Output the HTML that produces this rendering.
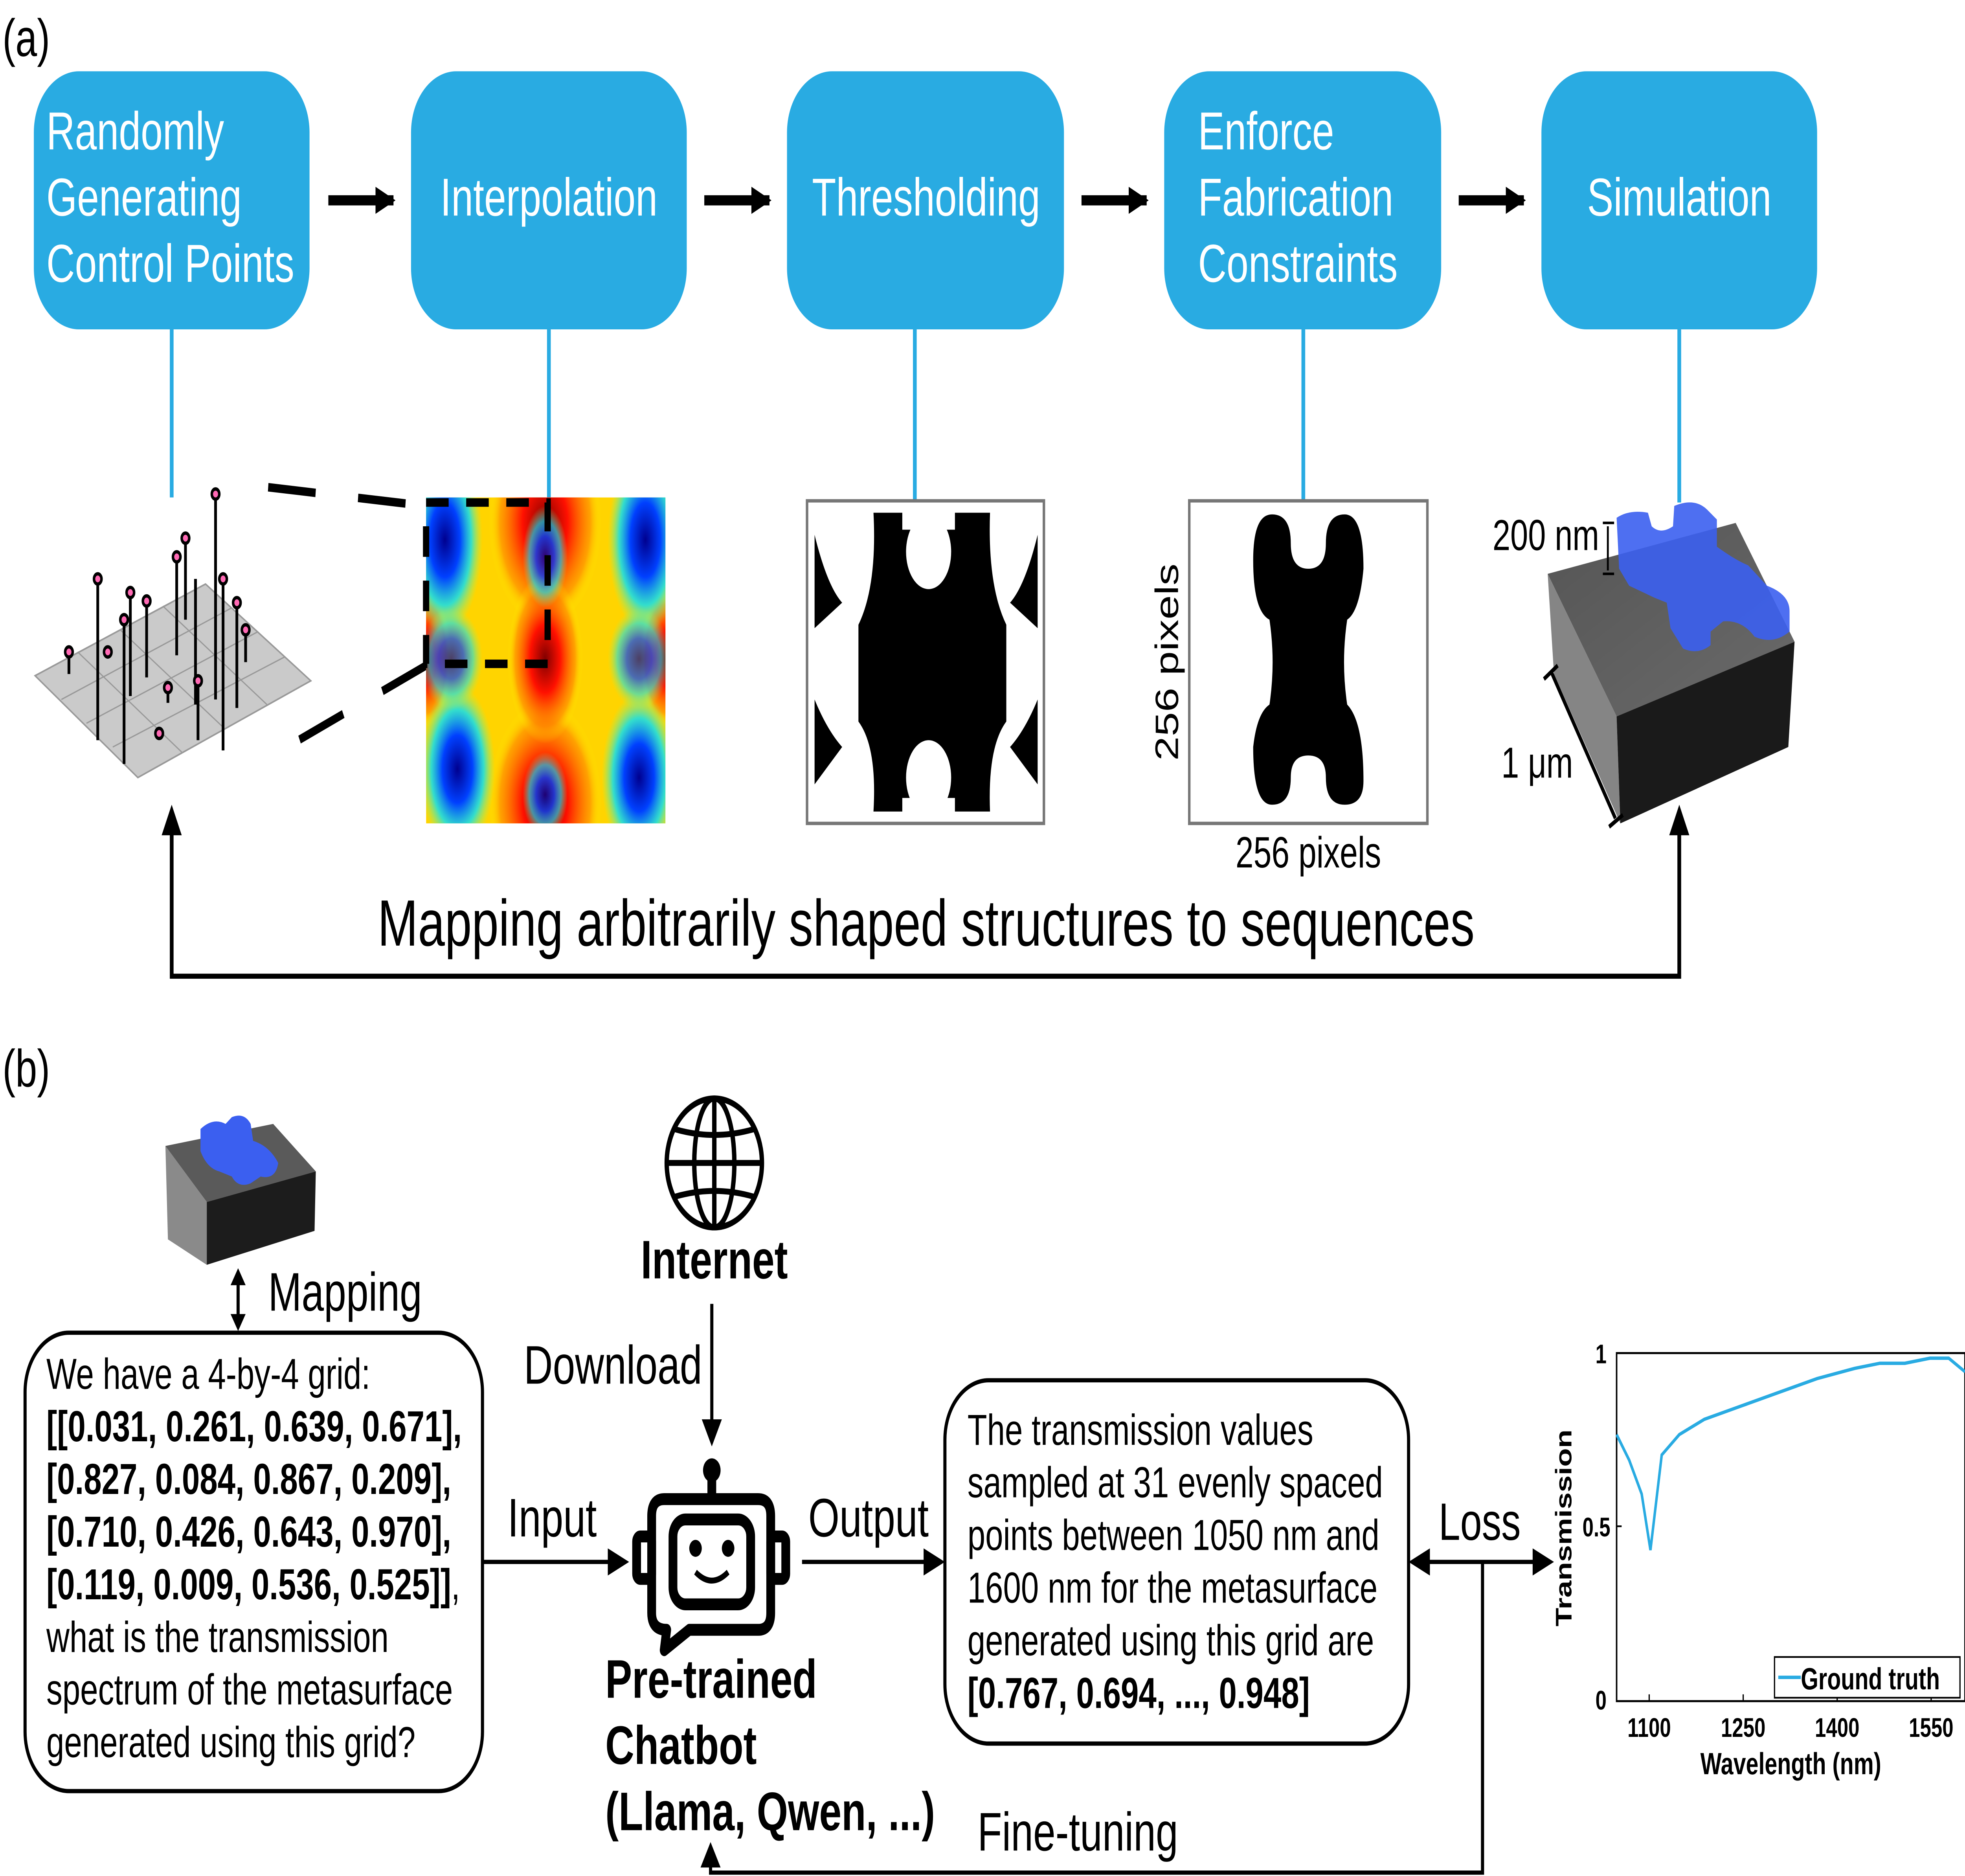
<!DOCTYPE html>
<html><head><meta charset="utf-8"><style>
html,body{margin:0;padding:0;background:#fff;overflow:hidden;width:100%;height:100%;}
#root{display:block;position:fixed;left:0;top:0;width:100%;height:100%;}
text{font-family:"Liberation Sans",Arial,sans-serif;}
</style></head><body>
<svg id="root" viewBox="0 0 1568 1105" preserveAspectRatio="none" xmlns="http://www.w3.org/2000/svg">
<defs>
<marker id="ahb" viewBox="0 0 10 10" markerWidth="16" markerHeight="16" refX="9" refY="5" orient="auto" markerUnits="userSpaceOnUse"><path d="M0,0 L10,5 L0,10 z" fill="#000"/></marker>
<radialGradient id="rb" cx="0.5" cy="0.5" r="0.5"><stop offset="0" stop-color="#00008f"/><stop offset="0.4" stop-color="#0040ff"/><stop offset="0.7" stop-color="#00e0ff" stop-opacity="0.8"/><stop offset="1" stop-color="#80ff80" stop-opacity="0"/></radialGradient>
<radialGradient id="rr" cx="0.5" cy="0.5" r="0.5"><stop offset="0" stop-color="#800000"/><stop offset="0.4" stop-color="#ff1000"/><stop offset="0.8" stop-color="#ff8000" stop-opacity="0.6"/><stop offset="1" stop-color="#ffff00" stop-opacity="0"/></radialGradient>
<linearGradient id="topf" x1="0" y1="0" x2="1" y2="1"><stop offset="0" stop-color="#555"/><stop offset="1" stop-color="#6a6a6a"/></linearGradient>
<clipPath id="hc"><rect x="340" y="293" width="191" height="192"/></clipPath>
</defs>

<text x="2" y="33" font-size="31">(a)</text>

<g fill="#29abe2">
<rect x="27" y="42" width="220" height="152" rx="36"/>
<rect x="328" y="42" width="220" height="152" rx="36"/>
<rect x="628" y="42" width="221" height="152" rx="36"/>
<rect x="929" y="42" width="221" height="152" rx="36"/>
<rect x="1230" y="42" width="220" height="152" rx="36"/>
</g>
<g fill="#fff" font-size="31.5">
<text x="37" y="88">Randomly</text><text x="37" y="127">Generating</text><text x="37" y="166">Control Points</text>
<text x="438" y="127" text-anchor="middle">Interpolation</text>
<text x="739" y="127" text-anchor="middle">Thresholding</text>
<text x="956" y="88">Enforce</text><text x="956" y="127">Fabrication</text><text x="956" y="166">Constraints</text>
<text x="1340" y="127" text-anchor="middle">Simulation</text>
</g>
<g stroke="#000" stroke-width="6" marker-end="url(#ahb)">
<line x1="262" y1="118" x2="314" y2="118"/>
<line x1="562" y1="118" x2="614" y2="118"/>
<line x1="863" y1="118" x2="915" y2="118"/>
<line x1="1164" y1="118" x2="1216" y2="118"/>
</g>
<g stroke="#29abe2" stroke-width="3">
<line x1="137" y1="194" x2="137" y2="293"/>
<line x1="438" y1="194" x2="438" y2="296"/>
<line x1="730" y1="194" x2="730" y2="296"/>
<line x1="1040" y1="194" x2="1040" y2="296"/>
<line x1="1340" y1="194" x2="1340" y2="296"/>
</g>

<g>
<polygon points="28,398 164,344 248,401 110,458" fill="#cacaca" stroke="#999" stroke-width="1"/>
<g stroke="#999" stroke-width="0.8">
<line x1="62" y1="384" x2="145" y2="443"/><line x1="96" y1="371" x2="179" y2="429"/><line x1="130" y1="357" x2="213" y2="415"/>
<line x1="49" y1="412" x2="185" y2="358"/><line x1="69" y1="426" x2="206" y2="372"/><line x1="90" y1="440" x2="227" y2="387"/>
</g>
<g stroke="#000" stroke-width="2.2">
<line x1="172" y1="293" x2="172" y2="412"/><line x1="148" y1="318" x2="148" y2="365"/><line x1="178" y1="340" x2="178" y2="442"/>
<line x1="104" y1="350" x2="104" y2="410"/><line x1="141" y1="330" x2="141" y2="386"/><line x1="156" y1="341" x2="156" y2="415"/>
<line x1="78" y1="342" x2="78" y2="436"/><line x1="117" y1="355" x2="117" y2="399"/><line x1="99" y1="365" x2="99" y2="450"/>
<line x1="189" y1="356" x2="189" y2="417"/><line x1="196" y1="372" x2="196" y2="390"/><line x1="55" y1="384" x2="55" y2="397"/>
<line x1="134" y1="406" x2="134" y2="414"/><line x1="158" y1="402" x2="158" y2="436"/>
</g>
<g fill="#ff69b4" stroke="#000" stroke-width="2">
<circle cx="172" cy="291" r="3"/><circle cx="148" cy="317" r="3"/><circle cx="104" cy="349" r="3"/><circle cx="141" cy="328" r="3"/>
<circle cx="78" cy="341" r="3"/><circle cx="117" cy="354" r="3"/><circle cx="99" cy="365" r="3"/><circle cx="189" cy="355" r="3"/>
<circle cx="196" cy="371" r="3"/><circle cx="55" cy="384" r="3"/><circle cx="86" cy="384" r="3"/><circle cx="134" cy="405" r="3"/>
<circle cx="158" cy="401" r="3"/><circle cx="127" cy="432" r="3"/><circle cx="178" cy="341" r="3"/>
</g>
</g>
<g stroke="#000" stroke-width="5" stroke-dasharray="38,34">
<line x1="214" y1="287" x2="340" y2="298"/>
<line x1="340" y1="392" x2="222" y2="443"/>
</g>

<g clip-path="url(#hc)">
<g transform="translate(340,293)">
<rect width="191" height="192" fill="#ffd400"/>
<ellipse cx="95" cy="15" rx="45" ry="60" fill="url(#rr)"/>
<ellipse cx="95" cy="180" rx="45" ry="60" fill="url(#rr)"/>
<ellipse cx="95" cy="95" rx="30" ry="50" fill="url(#rr)"/>
<ellipse cx="0" cy="95" rx="20" ry="40" fill="url(#rr)"/>
<ellipse cx="191" cy="95" rx="20" ry="40" fill="url(#rr)"/>
<ellipse cx="15" cy="25" rx="30" ry="55" fill="url(#rb)"/>
<ellipse cx="175" cy="25" rx="30" ry="55" fill="url(#rb)"/>
<ellipse cx="25" cy="160" rx="30" ry="50" fill="url(#rb)"/>
<ellipse cx="170" cy="165" rx="30" ry="50" fill="url(#rb)"/>
<ellipse cx="95" cy="35" rx="18" ry="30" fill="url(#rb)" opacity="0.8"/>
<ellipse cx="95" cy="175" rx="18" ry="25" fill="url(#rb)" opacity="0.8"/>
<ellipse cx="20" cy="95" rx="25" ry="30" fill="url(#rb)" opacity="0.7"/>
<ellipse cx="170" cy="95" rx="25" ry="30" fill="url(#rb)" opacity="0.7"/>
</g>
</g>
<rect x="340" y="296" width="97" height="95" fill="none" stroke="#000" stroke-width="5" stroke-dasharray="18,14"/>

<rect x="644" y="295" width="189" height="190" fill="#fff" stroke="#777" stroke-width="2"/>
<path d="M697,302 L790,302 Q788,345 803,368 L803,425 Q788,440 790,478 L697,478 Q700,440 685,425 L685,368 Q700,345 697,302 Z" fill="#000"/>
<ellipse cx="741" cy="325" rx="18" ry="22" fill="#fff"/>
<ellipse cx="741" cy="458" rx="18" ry="22" fill="#fff"/>
<rect x="720" y="470" width="42" height="10" fill="#fff"/><rect x="720" y="302" width="42" height="10" fill="#fff"/>
<path d="M650,315 Q660,345 672,355 L650,370 Z" fill="#000"/>
<path d="M650,412 Q660,430 672,440 L650,462 Z" fill="#000"/>
<path d="M828,315 Q818,345 806,355 L828,370 Z" fill="#000"/>
<path d="M828,412 Q818,430 806,440 L828,462 Z" fill="#000"/>

<rect x="949" y="295" width="190" height="190" fill="#fff" stroke="#777" stroke-width="2"/>
<path d="M1015,303 Q1030,303 1030,320 Q1030,335 1044,335 Q1058,335 1058,320 Q1058,303 1073,303 Q1088,303 1088,335 Q1085,360 1075,365 Q1070,390 1075,415 Q1088,425 1088,460 Q1088,474 1073,474 Q1058,474 1058,458 Q1058,445 1044,445 Q1030,445 1030,458 Q1030,474 1015,474 Q1000,474 1000,440 Q1003,420 1013,415 Q1018,390 1013,365 Q1000,360 1000,330 Q1000,303 1015,303 Z" fill="#000"/>
<text x="940" y="390" font-size="25.8" text-anchor="middle" transform="rotate(-90 940 390)">256 pixels</text>
<text x="1044" y="511" font-size="25.8" text-anchor="middle">256 pixels</text>

<polygon points="1235,338 1385,308 1432,378 1290,422" fill="url(#topf)"/>
<polygon points="1235,338 1290,422 1293,485 1240,397" fill="#858585"/>
<polygon points="1290,422 1432,378 1427,440 1293,485" fill="#1a1a1a"/>
<path d="M1290,305 Q1300,300 1315,302 L1318,310 Q1325,315 1335,310 L1336,298 Q1352,293 1362,300 L1370,306 L1370,322 Q1385,330 1395,333 L1410,345 Q1428,350 1428,360 L1428,372 Q1415,380 1400,375 Q1390,365 1375,366 L1365,372 L1365,380 Q1355,386 1343,382 L1333,370 L1330,355 L1320,352 L1300,345 L1292,335 Z" fill="#3b5ff0" opacity="0.9"/>
<text x="1191" y="324" font-size="25.5">200 nm</text>
<g stroke="#000" stroke-width="1.5"><line x1="1283" y1="310" x2="1283" y2="336"/><line x1="1279" y1="308" x2="1288" y2="308"/><line x1="1279" y1="338" x2="1288" y2="338"/></g>
<text x="1198" y="458" font-size="25.5">1 μm</text>
<g stroke="#000" stroke-width="2.5"><line x1="1238" y1="396" x2="1289" y2="482"/><line x1="1232" y1="400" x2="1243" y2="392"/><line x1="1284" y1="487" x2="1295" y2="480"/></g>

<polyline points="137,490 137,575 1340,575 1340,490" fill="none" stroke="#000" stroke-width="3"/>
<polygon points="129,492 137,474 145,492" fill="#000"/>
<polygon points="1332,492 1340,474 1348,492" fill="#000"/>
<text x="739" y="557" font-size="38.6" text-anchor="middle">Mapping arbitrarily shaped structures to sequences</text>

<text x="2" y="640" font-size="31">(b)</text>

<polygon points="132,675 218,662 252,690 165,708" fill="#5a5a5a"/>
<polygon points="132,675 165,708 165,745 134,730" fill="#8a8a8a"/>
<polygon points="165,708 252,690 251,725 165,745" fill="#1c1c1c"/>
<path d="M160,665 Q170,658 180,662 L185,658 Q195,655 200,662 L202,672 Q215,675 222,685 Q220,695 208,693 L200,697 Q190,700 185,693 L175,690 Q165,688 160,678 Z" fill="#3b5ff0"/>

<g stroke="#000" stroke-width="2.5"><line x1="190" y1="755" x2="190" y2="776"/></g>
<polygon points="184,757 190,747 196,757" fill="#000"/><polygon points="184,774 190,784 196,774" fill="#000"/>
<text x="214" y="772" font-size="32">Mapping</text>

<rect x="20" y="785" width="365" height="270" rx="35" fill="#fff" stroke="#000" stroke-width="2.5"/>
<g font-size="25.6">
<text x="37" y="818">We have a 4-by-4 grid:</text>
<text x="37" y="849" font-weight="bold">[[0.031, 0.261, 0.639, 0.671],</text>
<text x="37" y="880" font-weight="bold">[0.827, 0.084, 0.867, 0.209],</text>
<text x="37" y="911" font-weight="bold">[0.710, 0.426, 0.643, 0.970],</text>
<text x="37" y="942"><tspan font-weight="bold">[0.119, 0.009, 0.536, 0.525]]</tspan>,</text>
<text x="37" y="973">what is the transmission</text>
<text x="37" y="1004">spectrum of the metasurface</text>
<text x="37" y="1035">generated using this grid?</text>
</g>

<g fill="none" stroke="#000" stroke-width="3.5">
<circle cx="570" cy="685" r="38"/>
<ellipse cx="570" cy="685" rx="16" ry="38"/>
<line x1="532" y1="685" x2="608" y2="685"/>
<path d="M538,665 Q570,672 602,665"/><path d="M538,705 Q570,698 602,705"/>
<line x1="570" y1="647" x2="570" y2="723"/>
</g>
<text x="570" y="753" font-size="32" font-weight="bold" text-anchor="middle">Internet</text>
<line x1="568" y1="768" x2="568" y2="840" stroke="#000" stroke-width="2.5"/>
<polygon points="560,836 568,852 576,836" fill="#000"/>
<text x="418" y="815" font-size="32">Download</text>

<g fill="none" stroke="#000" stroke-width="7" stroke-linejoin="round">
<path d="M530,883 L605,883 Q615,883 615,893 L615,950 Q615,960 605,960 L550,960 L530,972 L532,960 Q520,960 520,950 L520,893 Q520,883 530,883 Z"/>
<rect x="537" y="895" width="62" height="50" rx="10"/>
<line x1="568" y1="868" x2="568" y2="883"/>
<rect x="508" y="905" width="12" height="25" rx="3"/><rect x="615" y="905" width="12" height="25" rx="3"/>
</g>
<circle cx="568" cy="866" r="7" fill="#000"/>
<circle cx="555" cy="912" r="5" fill="#000"/><circle cx="581" cy="912" r="5" fill="#000"/>
<path d="M555,926 Q568,936 581,926" fill="none" stroke="#000" stroke-width="3.5"/>
<g font-size="32" font-weight="bold"><text x="483" y="1000">Pre-trained</text><text x="483" y="1039">Chatbot</text><text x="483" y="1078">(Llama, Qwen, ...)</text></g>

<line x1="385" y1="920" x2="488" y2="920" stroke="#000" stroke-width="2.5"/><polygon points="485,912 502,920 485,928" fill="#000"/>
<text x="405" y="905" font-size="32">Input</text>
<line x1="640" y1="920" x2="740" y2="920" stroke="#000" stroke-width="2.5"/><polygon points="737,912 754,920 737,928" fill="#000"/>
<text x="645" y="905" font-size="32">Output</text>

<rect x="754" y="813" width="370" height="214" rx="35" fill="#fff" stroke="#000" stroke-width="2.5"/>
<g font-size="25.6">
<text x="772" y="851">The transmission values</text>
<text x="772" y="882">sampled at 31 evenly spaced</text>
<text x="772" y="913">points between 1050 nm and</text>
<text x="772" y="944">1600 nm for the metasurface</text>
<text x="772" y="975">generated using this grid are</text>
<text x="772" y="1006" font-weight="bold">[0.767, 0.694, ..., 0.948]</text>
</g>

<line x1="1138" y1="920" x2="1226" y2="920" stroke="#000" stroke-width="2.5"/>
<polygon points="1141,912 1124,920 1141,928" fill="#000"/><polygon points="1223,912 1240,920 1223,928" fill="#000"/>
<text x="1148" y="907" font-size="31">Loss</text>
<polyline points="1183,920 1183,1103 567,1103 567,1098" fill="none" stroke="#000" stroke-width="2.5"/>
<polygon points="559,1100 567,1085 575,1100" fill="#000"/>
<text x="780" y="1090" font-size="32">Fine-tuning</text>

<rect x="1290" y="797" width="278" height="205" fill="none" stroke="#000" stroke-width="1.2"/>
<g stroke="#000" stroke-width="1"><line x1="1290" y1="899" x2="1294" y2="899"/><line x1="1316" y1="1002" x2="1316" y2="998"/><line x1="1391" y1="1002" x2="1391" y2="998"/><line x1="1466" y1="1002" x2="1466" y2="998"/><line x1="1541" y1="1002" x2="1541" y2="998"/></g>
<g font-size="16" font-weight="bold">
<text x="1282" y="803" text-anchor="end">1</text><text x="1285" y="905" text-anchor="end">0.5</text><text x="1282" y="1007" text-anchor="end">0</text>
<text x="1316" y="1023" text-anchor="middle">1100</text><text x="1391" y="1023" text-anchor="middle">1250</text><text x="1466" y="1023" text-anchor="middle">1400</text><text x="1541" y="1023" text-anchor="middle">1550</text>
<text x="1429" y="1045" text-anchor="middle" font-size="18">Wavelength (nm)</text>
<text x="1254" y="900" text-anchor="middle" font-size="18" transform="rotate(-90 1254 900)">Transmission</text>
</g>
<polyline fill="none" stroke="#29abe2" stroke-width="2" points="1290,845 1300,860 1310,880 1317,913 1326,857 1340,845 1360,836 1390,828 1420,820 1450,812 1480,806 1500,803 1520,803 1540,800 1555,800 1568,808"/>
<rect x="1416" y="976" width="148" height="24" fill="#fff" stroke="#000" stroke-width="1"/>
<line x1="1419" y1="988" x2="1437" y2="988" stroke="#29abe2" stroke-width="2"/>
<text x="1437" y="995" font-size="18" font-weight="bold">Ground truth</text>
</svg>
</body></html>
